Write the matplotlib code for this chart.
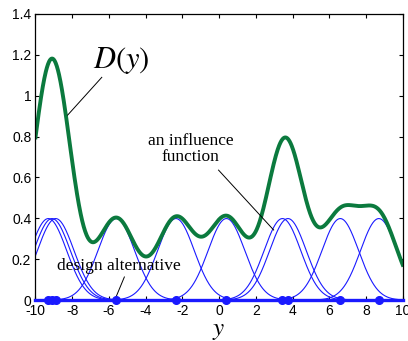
import numpy as np
import matplotlib
matplotlib.use("Agg")
import matplotlib.pyplot as plt

plt.rcParams["mathtext.fontset"] = "stix"

# design alternatives (centres of the influence functions)
centers = [-9.3, -9.1, -8.9, -5.6, -2.35, 0.4, 3.45, 3.75, 6.6, 8.7]
sigma = 1.0
x_ticks = [-10, -8, -6, -4, -2, 0, 2, 4, 6, 8, 10]
y_ticks = [0, 0.2, 0.4, 0.6, 0.8, 1.0, 1.2, 1.4]
y_tick_labels = ["0", "0.2", "0.4", "0.6", "0.8", "1", "1.2", "1.4"]


def influence(y, c):
    return np.exp(-(y - c) ** 2 / (2 * sigma ** 2)) / np.sqrt(2 * np.pi * sigma ** 2)


y = np.linspace(-10, 10, 1000)
D = np.zeros_like(y)

fig = plt.figure(figsize=(4.08, 3.41), dpi=100)
ax = fig.add_axes([0.087, 0.12, 0.900, 0.839])

for c in centers:
    f = influence(y, c)
    D += f
    ax.plot(y, f, color="#1a1aff", lw=0.8)

ax.plot(y, D, color="#0b7a3e", lw=2.8)
ax.plot([-10, 10], [0, 0], color="#1a1aff", lw=2.4, clip_on=False, zorder=3)
ax.plot(centers, np.zeros(len(centers)), "o", color="#1a1aff", ms=5.5,
        clip_on=False, zorder=4)

ax.set_xlim(-10, 10)
ax.set_ylim(0, 1.4)
ax.set_xticks(x_ticks)
ax.set_xticklabels([str(t) for t in x_ticks])
ax.set_yticks(y_ticks)
ax.set_yticklabels(y_tick_labels)
ax.tick_params(direction="in", top=True, right=True, length=3, labelsize=10, pad=3)
for lab in ax.get_xticklabels() + ax.get_yticklabels():
    lab.set_family("Liberation Sans")
for s in ax.spines.values():
    s.set_linewidth(0.9)

ax.set_xlabel("$y$", fontsize=18)
ax.xaxis.set_label_coords(0.5, -0.062)

ax.text(-5.3, 1.17, "$D(y)$", fontsize=22, ha="center", va="center")
ax.plot([-6.39, -8.25], [1.09, 0.905], color="black", lw=0.7)

ax.text(-1.55, 0.74, "an influence\nfunction", fontsize=12.5, family="Liberation Serif",
        ha="center", va="center", linespacing=1.05)
ax.plot([-0.03, 2.97], [0.636, 0.343], color="black", lw=0.7)

ax.text(-5.45, 0.165, "design alternative", fontsize=12.5, family="Liberation Serif",
        ha="center", va="center")
ax.plot([-5.16, -5.61], [0.113, 0.016], color="black", lw=0.7)

fig.savefig("out.png", dpi=100)
